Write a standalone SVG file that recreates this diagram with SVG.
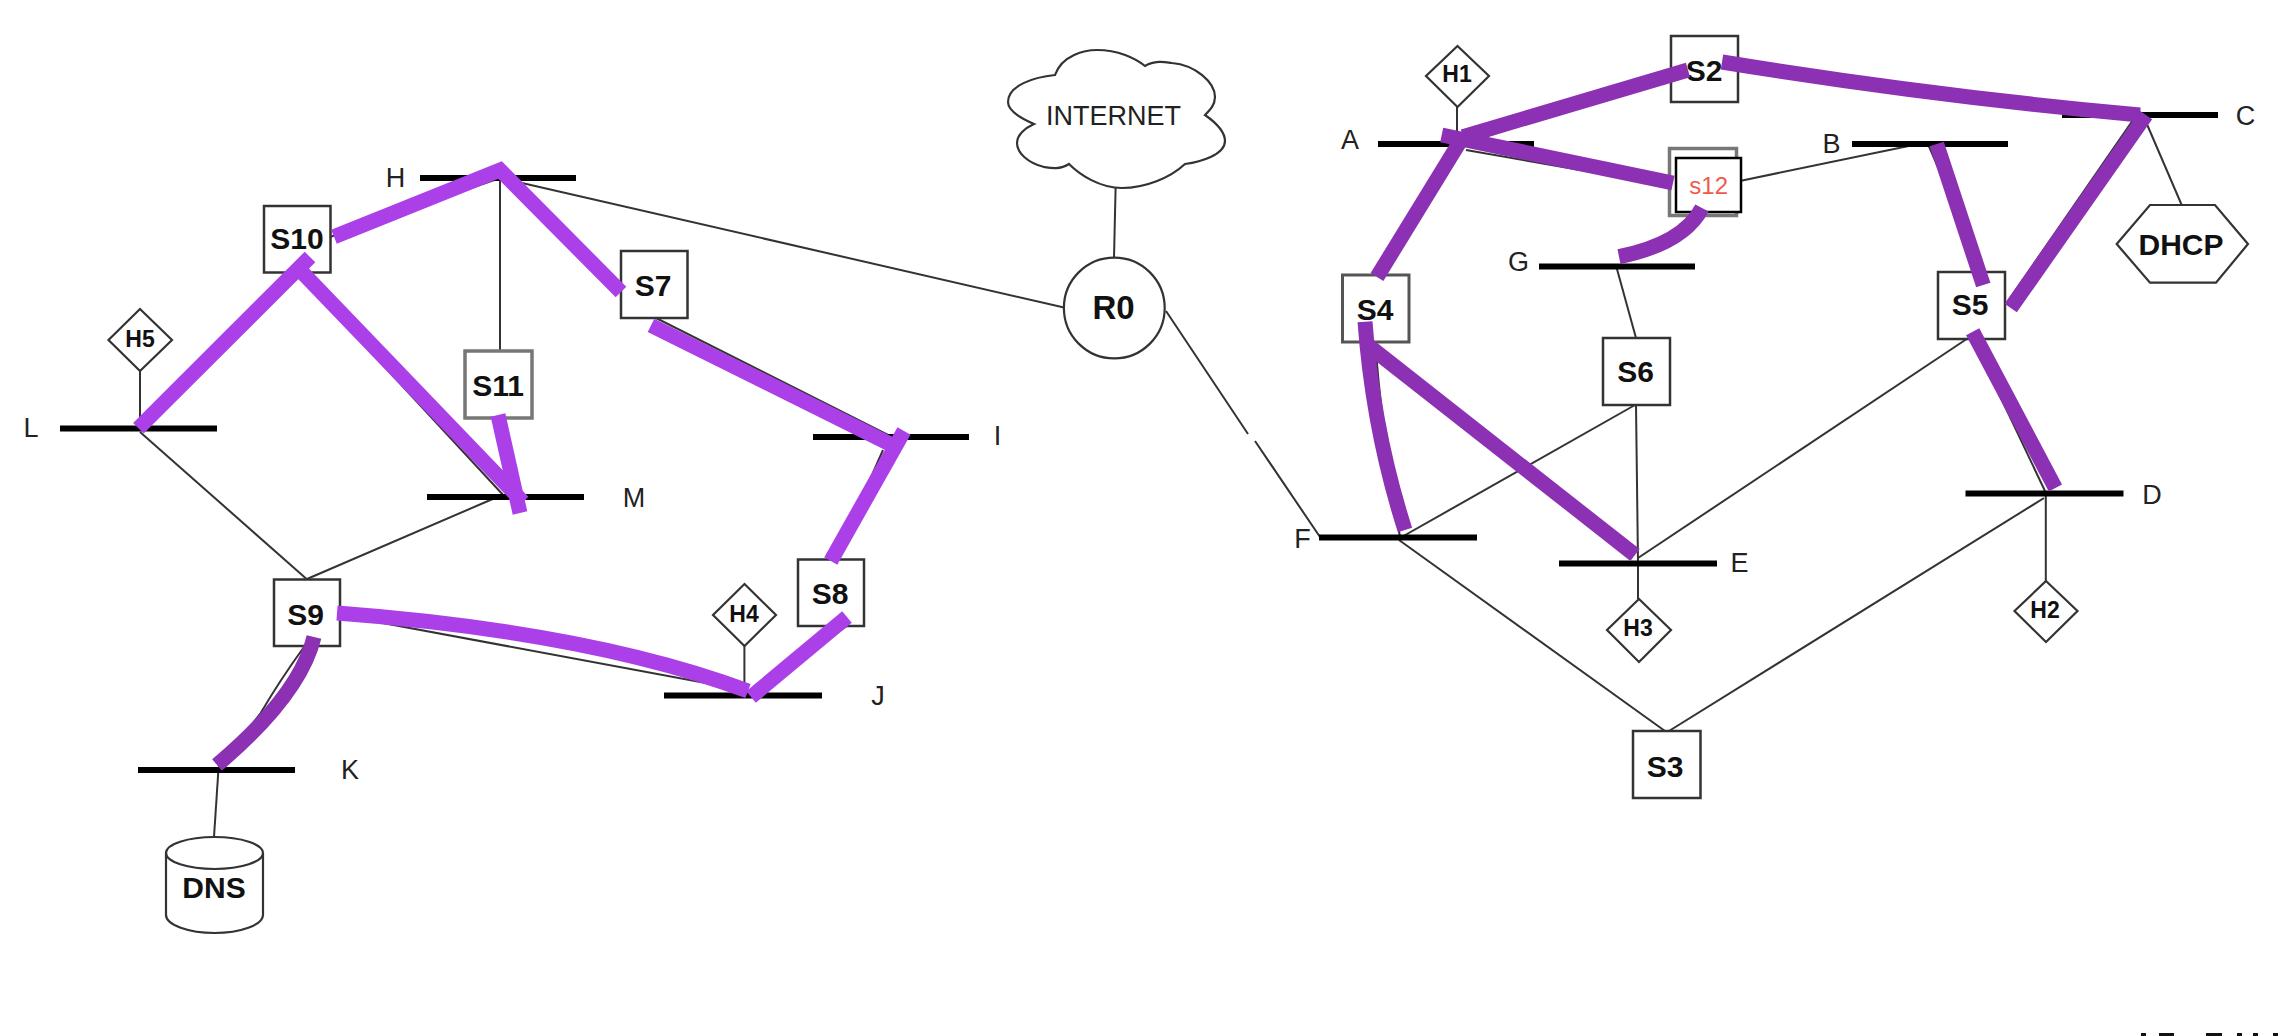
<svg xmlns="http://www.w3.org/2000/svg" width="2294" height="1036" viewBox="0 0 2294 1036">
<style>
text{font-family:"Liberation Sans",Arial,sans-serif;fill:#111;text-anchor:middle;dominant-baseline:central}
.n{font-weight:bold;font-size:30px}
.h{font-weight:bold;font-size:23px}
.l{font-size:27px;fill:#222}
.box{fill:#fff;stroke:#333;stroke-width:2.5}
.gbox{fill:#fff;stroke:#777;stroke-width:3.5}
.mbox{fill:#fff;stroke:#555;stroke-width:3}
.shape{fill:#fff;stroke:#333;stroke-width:2.2}
.bar{stroke:#000;stroke-width:6;fill:none}
#links path{fill:none;stroke:#333;stroke-width:2}
.p1,.p2{fill:none;stroke-width:15;stroke-linecap:butt;stroke-linejoin:miter}
.p1{stroke:#ab40e8}
.p2{stroke:#8c31b3}
</style>
<rect width="2294" height="1036" fill="#fff"/>
<g id="links">
<path d="M1115.6,188L1114,258"/>
<path d="M522,183L1064,307.5"/>
<path d="M1166,311L1248,434M1255,441L1320,537"/>
<path d="M500,178V350"/>
<path d="M330,237L500,178"/>
<path d="M297,272L505,497"/>
<path d="M498,418L510,497"/>
<path d="M140,371V428"/>
<path d="M140,432L306.6,579"/>
<path d="M495,498L307,579"/>
<path d="M656,318Q790,385 890,436"/>
<path d="M883,450L835,559"/>
<path d="M339.8,615Q530,650 738,689"/>
<path d="M744.4,646V695"/>
<path d="M848,625L752,695"/>
<path d="M304,647Q280,680 260.7,713L217,770"/>
<path d="M218.4,770L214,837"/>
<path d="M1457,107V144"/>
<path d="M1466,150L1672,186"/>
<path d="M1463,144L1690,70"/>
<path d="M1375,275L1460,144"/>
<path d="M1741,180.700L1928,142"/>
<path d="M1616.7,268L1636,338"/>
<path d="M1636,405L1638,563"/>
<path d="M1635,405L1400,538"/>
<path d="M1375,342Q1383,440 1400,537"/>
<path d="M1638,558L1966.7,339"/>
<path d="M1638,563V599"/>
<path d="M2045.800,493V581"/>
<path d="M2044,498L1669,731"/>
<path d="M1399,540L1665,731"/>
<path d="M2133,120L2006.700,303"/>
<path d="M2143,115L2181.700,205"/>
<path d="M1973,339L2045,491"/>
<path d="M1928,144L1983,272"/>
</g>
<g id="bar-H"><path class="bar" d="M420,178H576"/><text class="l" x="395.500" y="178">H</text></g>
<g id="bar-L"><path class="bar" d="M60,428.500H217"/><text class="l" x="31" y="428">L</text></g>
<g id="bar-M"><path class="bar" d="M427,497H584"/><text class="l" x="634" y="498">M</text></g>
<g id="bar-I"><path class="bar" d="M813,437H969"/><text class="l" x="997.500" y="436">I</text></g>
<g id="bar-J"><path class="bar" d="M664,695.500H822"/><text class="l" x="878" y="695.500">J</text></g>
<g id="bar-K"><path class="bar" d="M138,770H295"/><text class="l" x="350" y="770">K</text></g>
<g id="bar-A"><path class="bar" d="M1378,144H1534"/><text class="l" x="1350" y="140">A</text></g>
<g id="bar-B"><path class="bar" d="M1852,144H2008"/><text class="l" x="1831.500" y="144">B</text></g>
<g id="bar-C"><path class="bar" d="M2062,115H2218"/><text class="l" x="2245.500" y="116">C</text></g>
<g id="bar-D"><path class="bar" d="M1965.500,493.500H2123.500"/><text class="l" x="2152" y="495">D</text></g>
<g id="bar-E"><path class="bar" d="M1559,563.500H1717"/><text class="l" x="1739.500" y="562.500">E</text></g>
<g id="bar-F"><path class="bar" d="M1319,537.500H1477"/><text class="l" x="1302.500" y="538.500">F</text></g>
<g id="bar-G"><path class="bar" d="M1539,266.500H1695"/><text class="l" x="1518.500" y="262">G</text></g>
<g id="S10"><rect class="box" x="264" y="206" width="66.500" height="66.500"/><text class="n" x="297" y="238">S10</text></g>
<g id="S11"><rect class="gbox" x="465" y="351" width="67" height="67"/><text class="n" x="498" y="385">S11</text></g>
<g id="S7"><rect class="box" x="621" y="251" width="66.500" height="67"/><text class="n" x="653" y="285">S7</text></g>
<g id="S8"><rect class="box" x="798" y="559.500" width="66" height="66.500"/><text class="n" x="830" y="593">S8</text></g>
<g id="S9"><rect class="box" x="274" y="579.500" width="66" height="66.500"/><text class="n" x="305.600" y="614">S9</text></g>
<g id="S2"><rect class="box" x="1671" y="36" width="67" height="66"/><text class="n" x="1704" y="70">S2</text></g>
<g id="S3"><rect class="box" x="1633" y="731" width="67.500" height="67"/><text class="n" x="1665" y="766">S3</text></g>
<g id="S4"><rect class="mbox" x="1342.500" y="275" width="66.500" height="67"/><text class="n" x="1375" y="309">S4</text></g>
<g id="S5"><rect class="box" x="1938" y="272" width="67" height="67"/><text class="n" x="1970" y="304">S5</text></g>
<g id="S6"><rect class="box" x="1603" y="338" width="67" height="67"/><text class="n" x="1635.700" y="371">S6</text></g>
<g id="S12-back"><rect class="gbox" x="1669.500" y="148.500" width="67" height="67"/></g>
<g id="S12"><rect x="1676" y="158" width="65" height="54" fill="#fff" stroke="#000" stroke-width="2.500"/><text x="1708.700" y="185" font-size="24" style="fill:#f15a4a">s12</text></g>
<g id="H1"><path class="shape" d="M1457.500,46L1489,76L1457.500,107L1426,76Z"/><text class="h" x="1457" y="74">H1</text></g>
<g id="H2"><path class="shape" d="M2046,581L2077.500,611L2046,642L2014.500,611Z"/><text class="h" x="2045" y="610">H2</text></g>
<g id="H3"><path class="shape" d="M1639,599L1671,630L1639,662L1607,630Z"/><text class="h" x="1638" y="628">H3</text></g>
<g id="H4"><path class="shape" d="M744.500,584L776,615L744.500,646L713,615Z"/><text class="h" x="744" y="614">H4</text></g>
<g id="H5"><path class="shape" d="M140,309L172,340L140,371L108.500,340Z"/><text class="h" x="140" y="339">H5</text></g>
<g id="R0"><circle class="shape" cx="1114.300" cy="308" r="50.400"/><text x="1113.500" y="307.500" font-size="33" font-weight="bold">R0</text></g>
<g id="INTERNET"><path class="shape" d="M1055,75C1062,55 1085,50 1097,50C1118,50 1135,58 1145,66C1155,60 1165,62 1172,63C1195,65 1215,82 1215,97C1215,105 1210,110 1205,115C1215,122 1225,132 1225,141C1225,155 1200,162 1185,164C1170,178 1145,188 1122,188C1100,188 1080,175 1069,164C1060,170 1050,168 1044,167C1028,163 1017,153 1017,143C1017,135 1025,128 1034,124C1020,118 1008,110 1008,102C1008,85 1035,77 1055,75Z"/><text class="l" x="1113.500" y="115.500">INTERNET</text></g>
<g id="DHCP"><path class="shape" d="M2150,205H2215L2248,244L2216,282.700H2150L2116.700,244Z"/><text class="n" x="2181" y="244">DHCP</text></g>
<g id="DNS"><path class="shape" d="M166,853A48.500,16 0 0 1 263,853V915C263,925 240,933 214.500,933C189,933 166,925 166,915Z"/><path class="shape" style="fill:none" d="M166,853A48.500,16 0 0 0 263,853"/><text class="n" x="214" y="887">DNS</text></g>
<g id="highlights">
<path class="p1" d="M334,236.700L500,170L621,292"/>
<path class="p1" d="M138.400,428.300L310,257"/>
<path class="p1" d="M298,268L523,502"/>
<path class="p1" d="M498,415L520,513"/>
<path class="p1" d="M651,325.400L892,445"/>
<path class="p1" d="M904,431L830.800,561"/>
<path class="p1" d="M337,613Q590,632 748,691"/>
<path class="p1" d="M847,617L751,697"/>
<path class="p2" d="M314,637Q300,695 217,765"/>
<path class="p2" d="M1463,136.700L1688,70"/>
<path class="p2" d="M1441.700,135L1673,183"/>
<path class="p2" d="M1460,141.700L1377,277"/>
<path class="p2" d="M1702,208Q1683.500,243.600 1619,256.700"/>
<path class="p2" d="M1365,321.700Q1373,430 1405,530"/>
<path class="p2" d="M1365,343L1635,555"/>
<path class="p2" d="M1722,62Q1931,96 2140,115"/>
<path class="p2" d="M2146,115L2010.700,308"/>
<path class="p2" d="M1936.700,144L1983.300,285"/>
<path class="p2" d="M1972.700,331.700L2055.400,488"/>
</g>
<g id="edge-marks" fill="#111"><rect x="2141" y="1033" width="5" height="3"/><rect x="2159" y="1033" width="15" height="3"/><rect x="2206" y="1033" width="16" height="3"/><rect x="2237" y="1033" width="5" height="3"/><rect x="2253" y="1033" width="5" height="3"/><rect x="2273" y="1033" width="5" height="3"/></g>
</svg>
